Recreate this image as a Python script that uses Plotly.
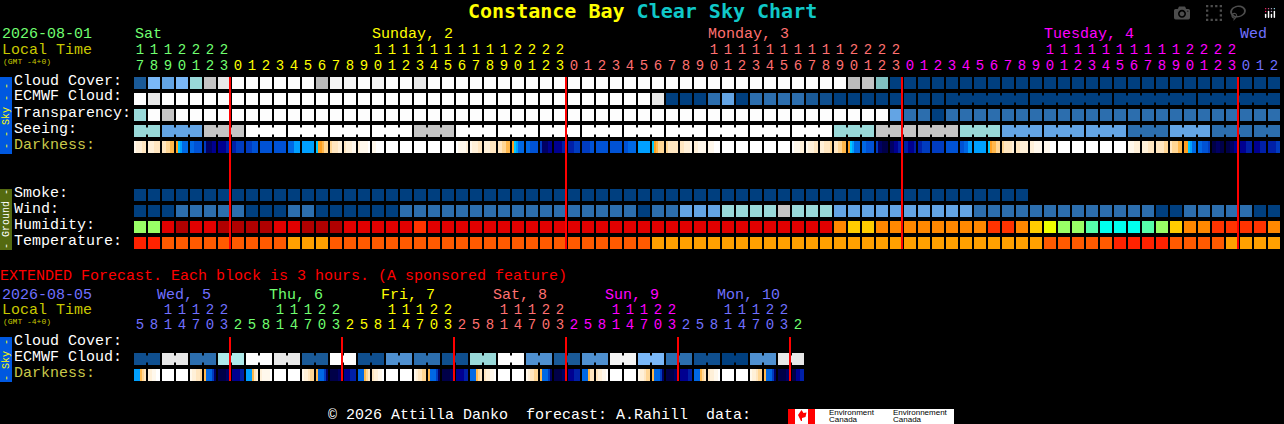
import plotly.graph_objects as go

WIDTH = 1284
HEIGHT = 424
MONO = "Liberation Mono"
TITLE_FONT = "DejaVu Sans Mono"

# sky colours, worst (navy) to best (white)
sky_colors = ["#003F7F", "#0F4F8F", "#1A5A98", "#2C6EAE", "#4F90D0", "#63A4E4", "#7AB8F8",
              "#80C0C0", "#99D9D9", "#AEEAEA", "#BBBBBB", "#C4C4C4", "#E8E8E8", "#F4F4F4", "#FDFDFD"]
humidity_colors = ["#B00000", "#E20000", "#FF3300", "#FF8800", "#FFCC00", "#EEFF00", "#99FF66", "#55FFAA", "#00FFEE"]
temp_colors = ["#FF2200", "#FF5A00", "#FFA000"]

cloud_cover = [2, 6, 5, 6, 8, 11, 12, 14, 14, 14, 14, 14, 14, 10, 13, 13, 14, 13, 14, 14, 12, 14, 14, 14, 14, 14, 14,
               14, 14, 14, 14, 14, 14, 14, 14, 14, 14, 14, 14, 14, 14, 14, 14, 14, 14, 14, 14, 14, 14, 14, 14,
               10, 11, 7, 0, 0, 0, 0, 0, 0, 0, 0, 0, 0, 0, 0, 0, 0, 0, 0, 0, 0, 0, 0, 0, 0, 0, 0, 0, 0, 0, 0]
ecmwf = [14, 12, 14, 14, 14, 14, 14, 14, 14, 14, 14, 14, 14, 14, 14, 14, 14, 14, 14, 14, 14, 14, 14, 14, 14, 14, 14,
         14, 14, 14, 14, 14, 14, 14, 14, 14, 14, 12, 0, 0, 0, 3, 5, 0, 3, 3, 3, 3, 2, 1, 0,
         0, 0, 0, 0, 0, 0, 0, 0, 0, 0, 0, 0, 0, 0, 0, 0, 0, 0, 0, 0, 0, 0, 0, 0, 0, 0, 0, 0, 0, 0, 0]
transparency = [8, 14, 11, 14, 14, 14, 14, 14, 14, 14, 14, 14, 14, 14, 14, 14, 14, 14, 14, 14, 14, 14, 14, 14, 14, 14, 14,
                14, 14, 14, 14, 14, 14, 14, 14, 14, 14, 14, 14, 14, 14, 14, 14, 14, 14, 14, 14, 14, 14, 14, 14,
                14, 14, 14, 5, 3, 3, 0, 3, 3, 3, 3, 3, 3, 3, 3, 3, 3, 3, 3, 3, 3, 3, 3, 3, 3, 3, 3, 3, 3, 3, 3]
seeing = [8, 8, 5, 5, 5, 11, 11, 11, 14, 14, 14, 14, 14, 14, 14, 14, 14, 14, 14, 14, 11, 11, 11, 14, 14, 14, 14,
          14, 14, 14, 14, 14, 14, 14, 14, 14, 14, 14, 14, 14, 14, 14, 14, 14, 14, 14, 14, 14, 14, 14, 8,
          8, 8, 11, 11, 11, 11, 11, 11, 8, 8, 8, 5, 5, 5, 5, 5, 5, 5, 5, 5, 3, 3, 3, 5, 5, 5, 3, 3, 3, 3, 3]
smoke = [0, 0, 0, 0, 0, 0, 0, 0, 0, 0, 0, 0, 0, 0, 0, 0, 0, 0, 0, 0, 0, 0, 0, 0, 0, 0, 0, 0, 0, 0, 0, 0,
         0, 0, 0, 0, 0, 0, 0, 0, 0, 0, 0, 0, 0, 0, 0, 0, 0, 0, 0, 0, 0, 0, 0, 0, 0, 0, 0, 0, 0, 0, 0, 0]
wind = [0, 0, 0, 3, 3, 3, 3, 3, 0, 0, 0, 3, 3, 0, 0, 0, 0, 0, 0, 3, 3, 3, 3, 3, 3, 3, 3,
        3, 3, 3, 3, 3, 3, 3, 3, 3, 0, 3, 3, 5, 5, 5, 8, 8, 8, 8, 11, 8, 8, 8, 5,
        5, 5, 5, 5, 5, 5, 5, 5, 5, 3, 3, 3, 3, 3, 3, 3, 3, 3, 3, 3, 3, 3, 0, 0, 3, 3, 3, 3, 3, 0, 0]
humidity = [6, 6, 1, 0, 1, 1, 0, 0, 0, 0, 1, 1, 0, 0, 0, 1, 1, 1, 1, 1, 2, 1, 1, 1, 1, 1, 1,
            1, 1, 1, 1, 1, 1, 1, 1, 1, 1, 1, 1, 1, 1, 1, 1, 1, 1, 1, 1, 1, 1, 1, 3,
            4, 4, 3, 3, 3, 3, 3, 3, 3, 3, 2, 2, 3, 4, 5, 6, 6, 7, 8, 8, 8, 7, 6, 4, 3, 3, 2, 2, 2, 2, 3]
temperature = [0, 0, 1, 1, 1, 1, 1, 1, 1, 1, 1, 2, 2, 2, 1, 1, 1, 1, 1, 1, 1, 1, 1, 1, 1, 1, 1,
               1, 1, 1, 1, 1, 1, 1, 1, 1, 1, 2, 2, 2, 2, 2, 2, 2, 2, 2, 2, 2, 2, 2, 2,
               2, 2, 2, 2, 2, 2, 2, 2, 2, 2, 2, 2, 2, 2, 1, 1, 1, 1, 1, 0, 0, 0, 0, 1, 1, 1, 1, 2, 2, 2, 2]
ext_ecmwf = [1, 1, 12, 12, 3, 3, 9, 9, 14, 14, 12, 12, 2, 2, 14, 14, 1, 1, 4, 4, 3, 3, 1, 1,
             8, 8, 14, 14, 4, 4, 2, 2, 4, 4, 13, 13, 6, 6, 3, 3, 1, 1, 0, 0, 4, 4, 12, 12]

# blocks that the forecast merges into one, shown with a bridge between cells
seeing_blocks = [2, 3, 3, 3, 3, 3, 3, 3, 3, 3, 3, 3, 3, 3, 3, 3, 3, 3, 3, 3, 3, 3, 3, 3, 3, 3, 3, 2]
ecmwf_blocks = [1, 1, 1, 1, 1, 1, 1, 1, 1, 1, 1, 1, 1, 1, 1, 1, 1, 1, 1, 1, 1, 1, 1, 1, 1, 1, 1,
                1, 1, 1, 1, 1, 1, 1, 1, 1, 1, 1, 1, 1, 1, 1, 1, 1, 1, 1, 1, 1, 1, 1, 1,
                1, 1, 1, 1, 1, 1, 1, 6, 6, 6, 6]
ext_ecmwf_blocks = [2, 2, 2, 2, 2, 2, 2, 2, 2, 2, 2, 2, 2, 2, 2, 2, 2, 2, 2, 2, 2, 2, 2, 2]

# darkness: sky brightness changes inside an hour, so 6 samples per block
dark_colors = {"W": "#FFFFFF", "C": "#FFF8EC", "D": "#FFF0D8", "E": "#FFE6C0", "F": "#FFD694", "G": "#FFB84C",
               "O": "#FFA020", "T": "#00C8FF", "S": "#00A0FF", "B": "#0068E4", "M": "#0052D4", "N": "#003CC0",
               "K": "#0020A8", "L": "#000090", "P": "#000064", "Q": "#000048"}
darkness = ["CDDDEE", "DDDEEE", "EEFFGG", "OTSBBB", "BBMMMM", "NPPPLL", "LLLLKK", "KKNNNN", "NNNMMM", "MMMMMM",
            "MMMMMM", "BBBSSS", "SSSSSS", "TOOGFF", "FEEEDD", "EDDDCC", "DCCCCW", "CCWWWW", "WWWWWW", "WWWWWW",
            "WWWWWW", "WWWWWW", "WWWWWW", "WCCCCD", "CDDDEE", "DDDEEE", "EEFFGG", "OTSBBB", "BBMMMM", "NPPPLL",
            "LLLLKK", "KKKNNN", "NNNNMM", "MMMMMM", "MMMMMM", "MMBBBB", "SSSSSS", "TOGFFF", "FEEEEE", "EEDDDC",
            "DDCCCC", "CCCWWW", "WWWWWW", "WWWWWW", "WWWWWW", "WWWWWW", "WWWWWW", "WCCCDD", "CDDDEE", "DDEEEF",
            "EEFFGG", "OTSBBB", "BBMMMM", "NPPQQQ", "PPLLKK", "KKLLLK", "KKNNNN", "NNNNNN", "MMMMMM", "MMBBSS",
            "SSSSSS", "TOGGFF", "FEEEED", "EEDDDD", "DDCCCC", "CCCWWW", "WWWWWW", "WWWWWW", "WWWWWW", "WWWWWW",
            "WWWWWW", "CCCDDD", "DDDEEE", "EEEEFF", "EFFFGG", "OOTSBB", "BBMMMN", "QQPPQQ", "QQPPLL", "LLLKKK",
            "LLLKKK", "KKKKNN"]
ext_darkness = ["SSSGFE", "DDCCWW", "WWWWWW", "WWWWWW", "CDDEEF", "GBBBNP", "QQQQPP", "LLLLKK",
                "SSSGED", "DCCCCW", "WWWWWW", "WWWWWW", "CDDEFF", "GBBBNP", "QQQQPP", "LLLKKK",
                "BBBGFE", "EDDCCW", "WWWWWW", "WWWWWW", "CDEEFF", "GBBBNP", "QQQQPP", "LLLLKK",
                "BBBGFE", "EDDCCW", "WWWWWW", "WWWWWW", "CDEEFF", "GBBBNP", "QQQQPP", "LLLKKK",
                "BBBGEE", "EDDCCW", "WWWWWW", "WWWWWW", "CDDEFF", "GBBBNP", "QQQQPP", "LLLLKK",
                "BBBGFE", "EDDCCW", "WWWWWW", "WWWWWW", "CDDEFF", "GBBBNP", "QQQQPP", "QQLLKK"]

# hour labels, one per block
hours = ["17", "18", "19", "20", "21", "22", "23",
         "0", "1", "2", "3", "4", "5", "6", "7", "8", "9", "10", "11", "12", "13", "14", "15", "16", "17", "18", "19", "20", "21", "22", "23",
         "0", "1", "2", "3", "4", "5", "6", "7", "8", "9", "10", "11", "12", "13", "14", "15", "16", "17", "18", "19", "20", "21", "22", "23",
         "0", "1", "2", "3", "4", "5", "6", "7", "8", "9", "10", "11", "12", "13", "14", "15", "16", "17", "18", "19", "20", "21", "22", "23",
         "0", "1", "2"]
ext_hours = ["5", "8", "11", "14", "17", "20", "23",
             "2", "5", "8", "11", "14", "17", "20", "23",
             "2", "5", "8", "11", "14", "17", "20", "23",
             "2", "5", "8", "11", "14", "17", "20", "23",
             "2", "5", "8", "11", "14", "17", "20", "23",
             "2", "5", "8", "11", "14", "17", "20", "23", "2"]
midnights = [7, 31, 55, 79]
ext_midnights = [7, 15, 23, 31, 39, 47]

GREEN, YELLOW, SALMON, MAGENTA, PERI = "#70FF70", "#FFFF00", "#FF7070", "#FF00FF", "#7070FF"
main_days = [("Sat", 7, GREEN), ("Sunday, 2", 31, YELLOW), ("Monday, 3", 55, SALMON), ("Tuesday, 4", 79, MAGENTA), ("Wed", 82, PERI)]
ext_days = [("Wed, 5", 7, PERI), ("Thu, 6", 15, GREEN), ("Fri, 7", 23, YELLOW), ("Sat, 8", 31, SALMON),
            ("Sun, 9", 39, MAGENTA), ("Mon, 10", 47, PERI), ("", 48, GREEN)]
main_day_x = [135, 372, 708, 1044, 1240]
ext_day_x = [157, 269, 381, 493, 605, 717]


# blocks are 14 px apart and rows 16 px apart, first block centre at (140, 83)
def col_x(px):
    return (px - 140) / 14


def row_y(py):
    return (py - 83) / 16


def steps(colors):
    n = len(colors)
    scale = []
    for i, c in enumerate(colors):
        scale.append([i / n, c])
        scale.append([(i + 1) / n, c])
    return scale


def add_row(fig, values, row, colors):
    fig.add_trace(go.Heatmap(x=list(range(len(values))), y=[row], z=[values], colorscale=steps(colors),
                             zmin=-0.5, zmax=len(colors) - 0.5, xgap=2, ygap=4, showscale=False, hoverinfo="skip"))


def add_bridges(fig, values, blocks, row):
    # short thick strokes across the gaps inside a merged block
    col = 0
    for size in blocks:
        for i in range(col, col + size - 1):
            fig.add_trace(go.Scatter(x=[i + 6 / 14, i + 8 / 14], y=[row, row], mode="lines", hoverinfo="skip",
                                     line=dict(color=sky_colors[values[i]], width=7), showlegend=False))
        col += size


def add_darkness(fig, samples, row):
    keys = list(dark_colors)
    xs = []
    zs = []
    for i, cell in enumerate(samples):
        for k, ch in enumerate(cell):
            xs.append(i + (2 * k - 5) / 14)
            zs.append(keys.index(ch))
        xs.append(i + 7 / 14)
        zs.append(None)
    fig.add_trace(go.Heatmap(x=xs, y=[row], z=[zs], colorscale=steps(list(dark_colors.values())),
                             zmin=-0.5, zmax=len(keys) - 0.5, ygap=4, showscale=False, hoverinfo="skip"))


def add_midnights(fig, cols, top, bottom):
    for c in cols:
        x = c - 8 / 14
        fig.add_trace(go.Scatter(x=[x, x], y=[row_y(top), row_y(bottom)], mode="lines", hoverinfo="skip",
                                 line=dict(color="#FF0000", width=2), showlegend=False))


def add_hours(fig, labels, days, y_tens, y_units):
    start = 0
    for _, end, color in days:
        cols = list(range(start, end))
        tens = [labels[i][0] if len(labels[i]) == 2 else "" for i in cols]
        units = [labels[i][-1] for i in cols]
        fig.add_trace(go.Scatter(x=cols, y=[row_y(y_tens)] * len(cols), text=tens, mode="text", hoverinfo="skip",
                                 textfont=dict(family=MONO, size=14, color=color), showlegend=False))
        fig.add_trace(go.Scatter(x=cols, y=[row_y(y_units)] * len(cols), text=units, mode="text", hoverinfo="skip",
                                 textfont=dict(family=MONO, size=14, color=color), showlegend=False))
        start = end


def label(fig, px, py, text, color="#FFFFFF", size=15, angle=0, anchor="left", family=MONO):
    fig.add_annotation(x=px / WIDTH, y=1 - py / HEIGHT, xref="paper", yref="paper", text=text, showarrow=False,
                       xanchor=anchor, yanchor="middle", textangle=angle, borderpad=0, borderwidth=0,
                       font=dict(family=family, size=size, color=color))


def box(fig, x0, y0, x1, y1, color):
    fig.add_shape(type="rect", xref="paper", yref="paper", x0=x0 / WIDTH, x1=x1 / WIDTH, y0=1 - y0 / HEIGHT, y1=1 - y1 / HEIGHT,
                  fillcolor=color, line_width=0, layer="below")


fig = go.Figure()

for values, row in [(cloud_cover, 0), (ecmwf, 1), (transparency, 2), (seeing, 3), (smoke, 7), (wind, 8)]:
    add_row(fig, values, row, sky_colors)
add_row(fig, humidity, 9, humidity_colors)
add_row(fig, temperature, 10, temp_colors)
add_row(fig, ext_ecmwf, row_y(359), sky_colors)
add_bridges(fig, seeing, seeing_blocks, 3)
add_bridges(fig, ecmwf, ecmwf_blocks, 1)
add_bridges(fig, ext_ecmwf, ext_ecmwf_blocks, row_y(359))
add_darkness(fig, darkness, 4)
add_darkness(fig, ext_darkness, row_y(375))
add_midnights(fig, midnights, 77, 249)
add_midnights(fig, ext_midnights, 337, 381)
add_hours(fig, hours, main_days, 50, 66)
add_hours(fig, ext_hours, ext_days, 310, 325)

# title
label(fig, 468, 11, "<span style='color:#FFFF00'>Constance Bay</span> <span style='color:#10C8C8'>Clear Sky Chart</span>",
      size=20, family=TITLE_FONT)
fig.layout.annotations[-1].font.weight = "bold"

# left column
label(fig, 2, 35, "2026-08-01", GREEN)
label(fig, 2, 50, "Local Time", "#C8C800")
label(fig, 3, 61, "(GMT -4+0)", "#C8C800", size=8)
for name, py, color in [("Cloud Cover:", 81, "#FFFFFF"), ("ECMWF Cloud:", 97, "#FFFFFF"), ("Transparency:", 113, "#FFFFFF"),
                        ("Seeing:", 129, "#FFFFFF"), ("Darkness:", 145, "#C8C84A"), ("Smoke:", 193, "#FFFFFF"),
                        ("Wind:", 209, "#FFFFFF"), ("Humidity:", 225, "#FFFFFF"), ("Temperature:", 241, "#FFFFFF"),
                        ("Cloud Cover:", 341, "#FFFFFF"), ("ECMWF Cloud:", 357, "#FFFFFF"), ("Darkness:", 373, "#C8C84A")]:
    label(fig, 14, py, name, color)

for (name, _, color), px in zip(main_days, main_day_x):
    label(fig, px, 35, name, color)
for (name, _, color), px in zip(ext_days, ext_day_x):
    label(fig, px, 295, name, color)

# side bars
box(fig, 0, 77, 12, 154, "#0058E0")
box(fig, 0, 189, 12, 250, "#546A10")
box(fig, 0, 337, 12, 382, "#0058E0")
label(fig, 6, 116, "- - Sky - -", "#FFFF00", size=10, angle=-90, anchor="center")
label(fig, 6, 219, "- Ground -", "#FFFFFF", size=10, angle=-90, anchor="center")
label(fig, 6, 360, "- Sky -", "#FFFF00", size=10, angle=-90, anchor="center")

# extended section
label(fig, 0, 276, "EXTENDED Forecast. Each block is 3 hours. (A sponsored feature)", "#FF0000")
label(fig, 2, 295, "2026-08-05", PERI)
label(fig, 2, 310, "Local Time", "#C8C800")
label(fig, 3, 321, "(GMT -4+0)", "#C8C800", size=8)

# footer
label(fig, 328, 415, "\u00a9 2026 Attilla Danko  forecast: A.Rahill  data:")
box(fig, 788, 409, 954, 424, "#FFFFFF")
box(fig, 788, 409, 795, 424, "#FF0000")
box(fig, 808, 409, 815, 424, "#FF0000")
fig.add_shape(type="path", xref="paper", yref="paper", fillcolor="#FF0000", line_width=0, layer="below",
              path="M {} {} L {} {} L {} {} L {} {} L {} {} L {} {} L {} {} L {} {} Z".format(
                  *[v for p in [(801.5, 410), (803.5, 413), (806.5, 412.5), (805.5, 417), (802, 418), (802, 421), (801, 421), (798, 415)]
                    for v in (p[0] / WIDTH, 1 - p[1] / HEIGHT)]))
for px, lines in [(829, ("Environment", "Canada")), (893, ("Environnement", "Canada"))]:
    label(fig, px, 412, lines[0], "#000000", size=8, family="Liberation Sans")
    label(fig, px, 419, lines[1], "#000000", size=8, family="Liberation Sans")

fig.update_layout(
    width=WIDTH,
    height=HEIGHT,
    margin=dict(l=0, r=0, t=0, b=0),
    paper_bgcolor="#000000",
    plot_bgcolor="rgba(0,0,0,0)",
    showlegend=False,
    xaxis=dict(visible=False, range=[col_x(0), col_x(WIDTH)], fixedrange=True),
    yaxis=dict(visible=False, range=[row_y(HEIGHT), row_y(0)], fixedrange=True),
)
fig.write_html("out.html", post_script="document.body.style.margin='0';document.body.style.overflow='hidden';document.body.style.background='#000';")
